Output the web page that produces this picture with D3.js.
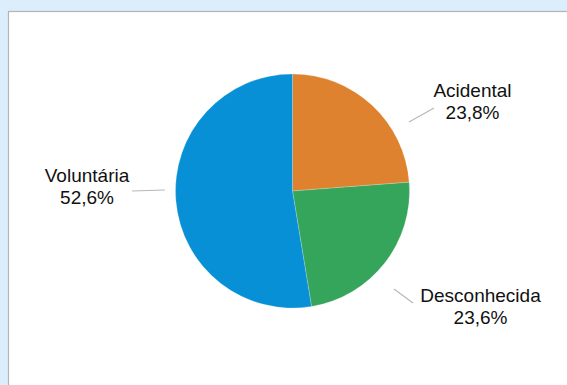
<!DOCTYPE html>
<html><head><meta charset="utf-8">
<script src="https://cdn.jsdelivr.net/npm/d3@7"></script>
<style>
html,body{margin:0;padding:0;background:#dcedfb;}
svg{display:block;}
</style></head>
<body>
<svg id="c" width="567" height="385"></svg>
<script>
const categories = ["Acidental", "Desconhecida", "Voluntária"];
const values = [23.8, 23.6, 52.6];
const valueLabels = ["23,8%", "23,6%", "52,6%"];
const colors = ["#df822f", "#34a55a", "#0790d5"];

const svg = d3.select("#c");
svg.append("rect").attr("x",0).attr("y",0).attr("width",567).attr("height",385).attr("fill","#dcedfb");
svg.append("rect").attr("x",8.5).attr("y",11.5).attr("width",600).attr("height",400)
  .attr("fill","#ffffff").attr("stroke","#b4b4b4").attr("stroke-width",1.2);

const cx = 292.5, cy = 191, r = 117;
const data = categories.map((c,i)=>({cat:c, v:values[i], lab:valueLabels[i], col:colors[i]}));
const pie = d3.pie().value(d=>d.v).sort(null);
const arc = d3.arc().innerRadius(0).outerRadius(r);
const g = svg.append("g").attr("transform",`translate(${cx},${cy})`);
const arcs = pie(data);
g.selectAll("path").data(arcs).enter().append("path")
  .attr("d",arc).attr("fill",d=>d.data.col)
  .attr("stroke","#ffffff").attr("stroke-width",0.4).attr("stroke-opacity",0.5);

// label layout (offsets relative to pie centre)
const labelPos = [
  {tx:180, ty:-94, line:[[116.5,-69],[141.5,-83]]},
  {tx:188, ty:111, line:[[101.5,98],[120.5,112]]},
  {tx:-205.5, ty:-9, line:[[-127.5,-1],[-160.5,0]]}
];
const lg = svg.append("g").attr("transform",`translate(${cx},${cy})`);
arcs.forEach((a,i)=>{
  const p = labelPos[i];
  lg.append("line").attr("x1",p.line[0][0]).attr("y1",p.line[0][1])
    .attr("x2",p.line[1][0]).attr("y2",p.line[1][1])
    .attr("stroke","#b8b8b8").attr("stroke-width",1.2);
  const t = lg.append("text").attr("x",p.tx).attr("y",p.ty)
    .attr("text-anchor","middle")
    .style("font-family","'Liberation Sans', Arial, sans-serif")
    .style("font-size","19px").attr("fill","#111111");
  t.append("tspan").attr("x",p.tx).text(a.data.cat);
  t.append("tspan").attr("x",p.tx).attr("dy",22).text(a.data.lab);
});
</script>
</body></html>
